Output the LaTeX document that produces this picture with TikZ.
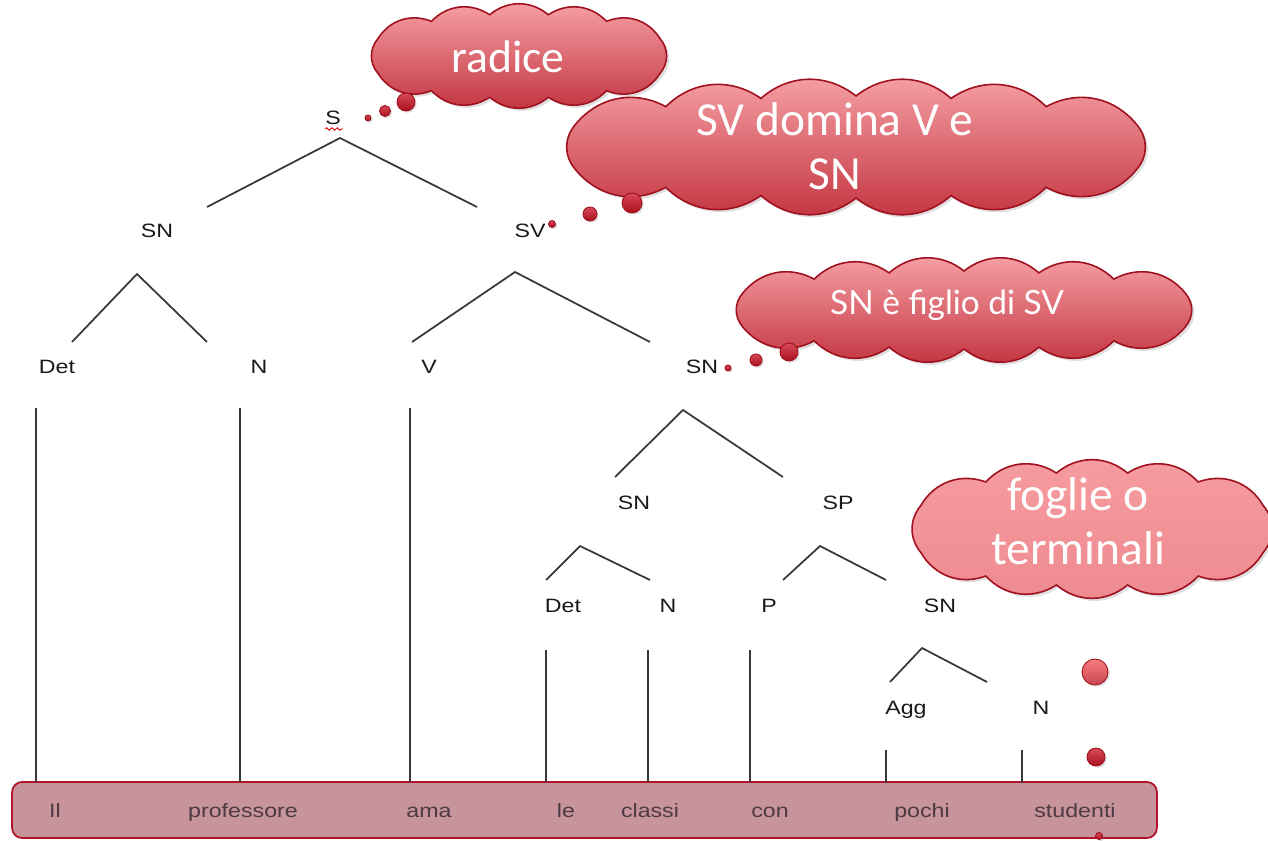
\documentclass[tikz,border=0pt]{standalone}
\usepackage{fontspec}
\setmainfont{Liberation Sans}
\newfontfamily\lblfont[FakeStretch=1.2]{Liberation Sans}
\newfontfamily\calfont{Carlito}
\newfontfamily\gillfont{Lato}
\usetikzlibrary{shadows,decorations.pathmorphing}
\definecolor{barfill}{HTML}{C8949B}
\definecolor{barline}{HTML}{B0142A}
\definecolor{wordcol}{HTML}{4D3A42}
\definecolor{cloudtop}{HTML}{F7A2A7}
\definecolor{cloudbot}{HTML}{C2323E}
\definecolor{cloudline}{HTML}{A0101E}
\definecolor{lighttop}{HTML}{F69CA0}
\definecolor{lightbot}{HTML}{EE8A90}
\definecolor{dottop}{HTML}{D84A58}
\definecolor{dotbot}{HTML}{A8101F}
% cloud outline: centre, radii, start angle, remaining angles (ending with start+360)
\newcommand{\cloudpath}[6]{({#1+#3*cos(#5)},{#2+#4*sin(#5)})
  \foreach \a in #6 { to[bend left=40] ({#1+#3*cos(\a)},{#2+#4*sin(\a)}) } -- cycle}
\def\listA{55.6,79.1,100.9,124.4,155.5,204.5,235.6,259.1,280.9,304.4,335.5,384.5}
\def\listB{52.3,72.2,90,107.8,127.7,154.7,205.3,232.3,252.2,270,287.8,307.7,334.7,385.3}
\tikzset{
  treeline/.style={draw=black!78, line width=1pt},
  lbl/.style={font=\lblfont\fontsize{11}{13}\selectfont, text=black!90, inner sep=0pt, anchor=base},
  word/.style={font=\lblfont\fontsize{11}{13}\selectfont, text=wordcol, inner sep=0pt, anchor=base},
  bar/.style={draw=barline, fill=barfill, line width=1pt, rounded corners=0.2cm, minimum width=22.9cm, minimum height=1.12cm, inner sep=0pt},
  thought/.style={draw=cloudline, line width=0.9pt, top color=cloudtop, bottom color=cloudbot, drop shadow={opacity=0.25, shadow xshift=1.5pt, shadow yshift=-1.5pt}},
  cloudtext/.style={text=white, align=center, inner sep=0pt},
  bubble/.style={circle, draw=cloudline, line width=0.5pt, top color=dottop, bottom color=dotbot, inner sep=0pt, minimum size=#1, drop shadow={opacity=0.25, shadow xshift=1pt, shadow yshift=-1pt}}
}
\begin{document}
\begin{tikzpicture}[x=0.02cm,y=-0.02cm]
\useasboundingbox (0,0) rectangle (1268,841);

% bottom bar
\node[bar] (bar) at (584.5,810) {};

% tree labels
\node[lbl] (S) at (333,125) {S};
\draw[red!85!black, line width=0.5pt, decorate, decoration={snake, amplitude=0.7pt, segment length=3pt}] (325,129) -- (343,129);
\node[lbl] (SN1) at (157,238) {SN};
\node[lbl] (SV) at (530,238) {SV};
\node[lbl] (Det1) at (57,373) {Det};
\node[lbl] (N1) at (259,373) {N};
\node[lbl] (V) at (429,373) {V};
\node[lbl] (SN2) at (702,373) {SN};
\node[lbl] (SN3) at (634,509) {SN};
\node[lbl] (SP) at (838,509) {SP};
\node[lbl] (Det2) at (563,612) {Det};
\node[lbl] (N2) at (668,612) {N};
\node[lbl] (P) at (769,612) {P};
\node[lbl] (SN4) at (940,612) {SN};
\node[lbl] (Agg) at (906,714) {Agg};
\node[lbl] (N3) at (1041,714) {N};

% carets
\coordinate (sA) at (340,138); \coordinate (sL) at (207,207); \coordinate (sR) at (477,207);
\coordinate (snA) at (137,274); \coordinate (snL) at (72,342); \coordinate (snR) at (207,342);
\coordinate (svA) at (515,272); \coordinate (svL) at (412,342); \coordinate (svR) at (650,342);
\coordinate (sn2A) at (683,410); \coordinate (sn2L) at (615,477); \coordinate (sn2R) at (783,477);
\coordinate (sn3A) at (580,546); \coordinate (sn3L) at (546,580); \coordinate (sn3R) at (650,580);
\coordinate (spA) at (820,546); \coordinate (spL) at (783,580); \coordinate (spR) at (886,580);
\coordinate (sn4A) at (922,648); \coordinate (sn4L) at (890,682); \coordinate (sn4R) at (987,682);
\foreach \c in {s,sn,sv,sn2,sn3,sp,sn4} \draw[treeline] (\c L) -- (\c A) -- (\c R);

% vertical lines
\coordinate (v1t) at (36,408);   \coordinate (v1b) at (36,782);
\coordinate (v2t) at (240,408);  \coordinate (v2b) at (240,782);
\coordinate (v3t) at (410,408);  \coordinate (v3b) at (410,782);
\coordinate (v4t) at (546,650);  \coordinate (v4b) at (546,782);
\coordinate (v5t) at (648,650);  \coordinate (v5b) at (648,782);
\coordinate (v6t) at (750,650);  \coordinate (v6b) at (750,782);
\coordinate (v7t) at (886,750);  \coordinate (v7b) at (886,783);
\coordinate (v8t) at (1022,750); \coordinate (v8b) at (1022,783);
\foreach \i in {1,...,8} \draw[treeline] (v\i t) -- (v\i b);

% words
\node[word] (w1) at (55,817) {Il};
\node[word] (w2) at (243,817) {professore};
\node[word] (w3) at (429,817) {ama};
\node[word] (w4) at (566,817) {le};
\node[word] (w5) at (650,817) {classi};
\node[word] (w6) at (770,817) {con};
\node[word] (w7) at (922,817) {pochi};
\node[word] (w8) at (1075,817) {studenti};

% clouds
\path[thought] \cloudpath{519}{56}{155}{42}{24.5}{\listA};
\node[cloudtext, font=\calfont\fontsize{26}{30}\selectfont] (c1t) at (508,57) {radice};
\node[bubble=0.12cm] (b11) at (368,118) {};
\node[bubble=0.22cm] (b12) at (385,111) {};
\node[bubble=0.36cm] (b13) at (406,102) {};

\path[thought] \cloudpath{856}{147}{311}{51}{25.3}{\listB};
\node[cloudtext, font=\calfont\fontsize{27}{31}\selectfont] (c2t) at (835,146) {SV domina V e\\SN};
\node[bubble=0.14cm] (b21) at (552,224) {};
\node[bubble=0.28cm] (b22) at (590,214) {};
\node[bubble=0.4cm] (b23) at (632,203) {};

\path[thought] \cloudpath{964}{310}{245}{39}{25.3}{\listB};
\node[cloudtext, font=\gillfont\fontsize{19}{22}\selectfont] (c3t) at (947,305) {SN è figlio di SV};
\node[bubble=0.12cm] (b31) at (728,368) {};
\node[bubble=0.24cm] (b32) at (756,360) {};
\node[bubble=0.36cm] (b33) at (789,352) {};

\path[thought, top color=lighttop, bottom color=lightbot] \cloudpath{1092}{529}{188}{57}{24.5}{\listA};
\node[cloudtext, font=\calfont\fontsize{27}{31}\selectfont] (c4t) at (1078,521) {foglie o\\terminali};
\node[bubble=0.52cm, top color=lighttop!80!red, bottom color=cloudbot!90] (b41) at (1095,672) {};
\node[bubble=0.36cm] (b42) at (1096,757) {};
\node[bubble=0.14cm] (b43) at (1099,836) {};
\end{tikzpicture}
\end{document}
